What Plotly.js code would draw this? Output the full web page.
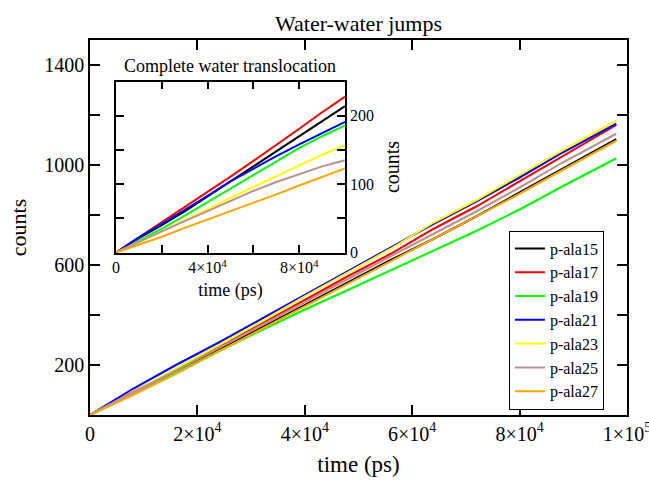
<!DOCTYPE html>
<html>
<head>
<meta charset="utf-8">
<script src="https://cdn.plot.ly/plotly-3.0.1.min.js"></script>
<style>html,body{margin:0;padding:0;background:#fff;}#chart{width:649px;height:481px;}</style>
</head>
<body>
<div id="chart"></div>
<script>
// ---- Data ----
const seriesNames = ['p-ala15','p-ala17','p-ala19','p-ala21','p-ala23','p-ala25','p-ala27'];
const seriesColors = ['#000000','#ff0000','#00ff00','#0000ff','#ffff00','#bc8f8f','#ffa500'];

// Main panel: water-water jumps
const mainTime = [0, 8000, 16000, 24000, 32000, 40000, 48000, 56000, 64000, 72000, 80000, 88000, 98000];
const mainAla15 = [0, 85, 172, 260, 350, 440, 530, 620, 705, 795, 890, 985, 1103];
const mainAla17 = [0, 92, 180, 270, 365, 460, 555, 645, 745, 835, 935, 1035, 1160];
const mainAla19 = [0, 86, 170, 255, 340, 422, 500, 578, 657, 737, 822, 915, 1027];
const mainAla21 = [0, 105, 200, 290, 385, 480, 575, 670, 765, 855, 950, 1050, 1165];
const mainAla23 = [0, 90, 185, 280, 375, 475, 570, 665, 770, 860, 960, 1060, 1177];
const mainAla25 = [0, 88, 178, 268, 360, 452, 545, 635, 725, 815, 910, 1010, 1125];
const mainAla27 = [0, 80, 165, 255, 345, 435, 525, 615, 705, 795, 885, 980, 1097];

// Inset: complete water translocation
const insetTime = [0, 10000, 20000, 30000, 40000, 50000, 60000, 70000, 80000, 90000, 100000];
const insetAla15 = [0, 21, 40, 60, 82, 104, 127, 149, 171, 193, 214];
const insetAla17 = [0, 22, 44, 66, 88, 111, 134, 157, 181, 205, 228];
const insetAla19 = [0, 17, 35, 54, 74, 94, 114, 134, 153, 170, 186];
const insetAla21 = [0, 22, 42, 62, 83, 104, 123, 141, 158, 175, 191];
const insetAla23 = [0, 15, 31, 47, 64, 80, 96, 112, 128, 143, 157];
const insetAla25 = [0, 16, 31, 46, 61, 76, 90, 103, 115, 126, 135];
const insetAla27 = [0, 11, 23, 36, 48, 60, 72, 85, 98, 111, 123];

// Tick labels
const mainXTickVals = [0, 20000, 40000, 60000, 80000, 100000];
const mainXTickText = ['0', '2×10<sup>4</sup>', '4×10<sup>4</sup>', '6×10<sup>4</sup>', '8×10<sup>4</sup>', '1×10<sup>5</sup>'];
const mainYTickVals = [200, 600, 1000, 1400];
const mainYTickText = ['200', '600', '1000', '1400'];
const mainYMinorVals = [400, 800, 1200];
const insetXTickVals = [0, 40000, 80000];
const insetXTickText = ['0', '4×10<sup>4</sup>', '8×10<sup>4</sup>'];
const insetXMinorVals = [20000, 60000];
const insetYTickVals = [0, 100, 200];
const insetYTickText = ['0', '100', '200'];
const insetYMinorVals = [50, 150];

const mainSeries = [mainAla15, mainAla17, mainAla19, mainAla21, mainAla23, mainAla25, mainAla27];
const insetSeries = [insetAla15, insetAla17, insetAla19, insetAla21, insetAla23, insetAla25, insetAla27];

const FONT = 'Liberation Serif, Times New Roman, serif';
const traces = [];
mainSeries.forEach((ys, i) => {
  traces.push({x: mainTime, y: ys, type: 'scatter', mode: 'lines', name: seriesNames[i],
    line: {color: seriesColors[i], width: 2}, xaxis: 'x', yaxis: 'y'});
});
insetSeries.forEach((ys, i) => {
  traces.push({x: insetTime, y: ys, type: 'scatter', mode: 'lines', name: seriesNames[i],
    line: {color: seriesColors[i], width: 2}, xaxis: 'x2', yaxis: 'y2', showlegend: false});
});

function axisBase(len) {
  return {ticks: 'inside', ticklen: len, tickwidth: 1.5, tickcolor: '#000', showline: true, linewidth: 1.5,
    linecolor: '#000', mirror: 'ticks', showgrid: false, zeroline: false, tickmode: 'array',
    ticklabeloverflow: 'allow'};
}

const layout = {
  width: 649, height: 481,
  margin: {l: 90, r: 22, t: 40, b: 66},
  paper_bgcolor: '#fff', plot_bgcolor: '#fff',
  font: {family: FONT, color: '#000'},
  showlegend: true,
  title: {text: 'Water-water jumps', font: {family: FONT, size: 22, color: '#000'},
    x: 0.5, xref: 'paper', y: 1 - 23/481, yref: 'container', yanchor: 'middle'},
  xaxis: Object.assign(axisBase(10), {domain: [0, 1], range: [0, 100000], tickvals: mainXTickVals, ticktext: mainXTickText,
    tickfont: {family: FONT, size: 20, color: '#000'},
    title: {text: 'time (ps)', font: {family: FONT, size: 23, color: '#000'}, standoff: 12}}),
  yaxis: Object.assign(axisBase(10), {domain: [0, 1], range: [0, 1500], tickvals: mainYTickVals, ticktext: mainYTickText,
    minor: {tickmode: 'array', tickvals: mainYMinorVals, ticks: 'inside', ticklen: 10, tickwidth: 1.5, tickcolor: '#000', showgrid: false},
    tickfont: {family: FONT, size: 20, color: '#000'},
    title: {text: 'counts', font: {family: FONT, size: 22, color: '#000'}, standoff: 12}}),
  xaxis2: Object.assign(axisBase(8), {domain: [0.0484, 0.4749], anchor: 'y2', range: [0, 100000], tickvals: insetXTickVals, ticktext: insetXTickText,
    minor: {tickmode: 'array', tickvals: insetXMinorVals, ticks: 'inside', ticklen: 8, tickwidth: 1.5, tickcolor: '#000', showgrid: false},
    tickfont: {family: FONT, size: 16, color: '#000'},
    title: {text: 'time (ps)', font: {family: FONT, size: 18, color: '#000'}, standoff: 8}}),
  yaxis2: Object.assign(axisBase(8), {domain: [0.4333, 0.8893], anchor: 'x2', side: 'right', range: [0, 250], tickvals: insetYTickVals, ticktext: insetYTickText,
    minor: {tickmode: 'array', tickvals: insetYMinorVals, ticks: 'inside', ticklen: 8, tickwidth: 1.5, tickcolor: '#000', showgrid: false},
    tickfont: {family: FONT, size: 16, color: '#000'},
    title: {text: 'counts', font: {family: FONT, size: 20, color: '#000'}, standoff: 12}}),
  legend: {x: 0.957, xanchor: 'right', y: 0.2533, yanchor: 'middle', bgcolor: '#fff',
    bordercolor: '#000', borderwidth: 1, font: {family: FONT, size: 16, color: '#000'}, tracegroupgap: 0},
  annotations: [{text: 'Complete water translocation', xref: 'paper', yref: 'paper',
    x: 0.2607, y: 0.9307, xanchor: 'center', yanchor: 'middle', showarrow: false,
    font: {family: FONT, size: 18, color: '#000'}}]
};

Plotly.newPlot('chart', traces, layout, {displayModeBar: false, responsive: false});
</script>
</body>
</html>
